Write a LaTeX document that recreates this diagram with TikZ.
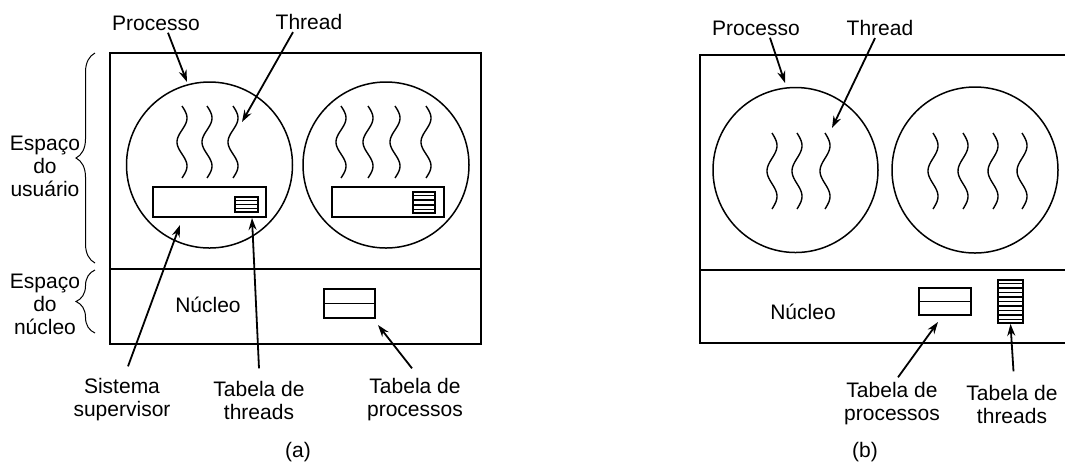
\documentclass[tikz,border=0pt]{standalone}
\usepackage{fontspec}
\setmainfont{Liberation Sans}
\usepackage{tikz}
\usetikzlibrary{arrows.meta, calc, decorations.pathreplacing}
\tikzset{
  proc/.style = {circle, draw, line width=0.75pt, inner sep=0pt},
  svbox/.style = {rectangle, draw, line width=0.9pt, inner sep=0pt},
  tbl/.style = {rectangle, draw, line width=0.9pt, inner sep=0pt},
  row/.style = {line width=0.75pt},
  lbl/.style = {align=center, inner sep=1pt},
  thread/.style = {line width=0.7pt},
  frame/.style = {line width=1pt},
  brace/.style = {decorate, decoration={brace, amplitude=9.5pt}, line width=0.5pt},
  arrow/.style = {line width=0.9pt, -{Stealth[length=6pt,width=4pt]}},
}

\begin{document}
\begin{tikzpicture}[x=0.5pt, y=-0.5pt, font=\fontsize{10.5}{11.5}\selectfont]
  \useasboundingbox (0,0) rectangle (1065,463);

  % (a) threads in user space
  \draw[frame] (110,53) rectangle (481,344);
  \draw[frame] (110,269) -- (481,269);
  \node[proc, minimum size=83pt] (procA1) at (209.5,165) {};
  \node[proc, minimum size=83pt] (procA2) at (386,165) {};
  \foreach \tx in {182,207,233}
    \draw[thread] plot[variable=\t, domain=0:1, samples=40] ({\tx+5*sin(540*\t)}, {106+72*\t});
  \foreach \tx in {341,368,395,426}
    \draw[thread] plot[variable=\t, domain=0:1, samples=40] ({\tx+5*sin(540*\t)}, {106+72*\t});
  \node[svbox, minimum width=56.5pt, minimum height=15pt] (svA1) at (209.5,202) {};
  \node[svbox, minimum width=56pt, minimum height=15pt] (svA2) at (388,202) {};
  \node[tbl, minimum width=11.5pt, minimum height=7.5pt] (ttA1) at (246.5,204.5) {};
  \node[tbl, minimum width=11pt, minimum height=10.5pt] (ttA2) at (424,202.5) {};
  \node[tbl, minimum width=25.5pt, minimum height=14.5pt] (ptA) at (349.5,303.5) {};
  \foreach \k in {1,...,3}
    \draw[row] ($(ttA1.north west)!\k/4!(ttA1.south west)$) -- ($(ttA1.north east)!\k/4!(ttA1.south east)$);
  \foreach \k in {1,...,4}
    \draw[row] ($(ttA2.north west)!\k/5!(ttA2.south west)$) -- ($(ttA2.north east)!\k/5!(ttA2.south east)$);
  \draw[tbl] (ptA.west) -- (ptA.east);

  \node[lbl] (nucA) at (208,305) {Núcleo};
  \node[lbl] (usr) at (45,166) {Espaço\\do\\usuário};
  \node[lbl] (ker) at (45,304) {Espaço\\do\\núcleo};
  \draw[brace] (95,263) -- (95,53);
  \draw[brace, decoration={aspect=0.5}] (95,333) -- (95,270);

  \node[lbl] (lprocA) at (156,23) {Processo};
  \node[lbl] (lthrA) at (309,22) {Thread};
  \node[lbl] (lsup) at (122,400) {Sistema\\supervisor};
  \node[lbl] (lttA) at (259,400) {Tabela de\\threads};
  \node[lbl] (lptA) at (415,400) {Tabela de\\processos};
  \node[lbl] (capA) at (298,452) {(a)};

  \coordinate (tipProcA) at (187,82);
  \coordinate (tipThrA) at (242,122);
  \coordinate (tipSup) at (180,225);
  \coordinate (tipTtA) at (252,218);
  \coordinate (tipPtA) at (378,325);
  \draw[arrow] ([xshift=6pt]lprocA.south) -- (tipProcA);
  \draw[arrow] ([xshift=-8pt]lthrA.south) -- (tipThrA);
  \draw[arrow] ([xshift=3pt,yshift=5pt]lsup.north) -- (tipSup);
  \draw[arrow] ([yshift=5pt]lttA.north) -- (tipTtA);
  \draw[arrow] ([xshift=-1.5pt,yshift=4pt]lptA.north) -- (tipPtA);

  % (b) threads in the kernel
  \draw[frame] (1066,55) -- (700,55) -- (700,343) -- (1066,343);
  \draw[frame] (700,270) -- (1066,270);
  \node[proc, minimum size=82.5pt] (procB1) at (795.5,170) {};
  \node[proc, minimum size=83pt] (procB2) at (975,170) {};
  \foreach \tx in {772,797,825}
    \draw[thread] plot[variable=\t, domain=0:1, samples=40] ({\tx+5*sin(540*\t)}, {133+76*\t});
  \foreach \tx in {933,963,993,1022}
    \draw[thread] plot[variable=\t, domain=0:1, samples=40] ({\tx+5*sin(540*\t)}, {133+76*\t});
  \node[tbl, minimum width=26pt, minimum height=13.5pt] (ptB) at (945,301.5) {};
  \node[tbl, minimum width=12.5pt, minimum height=21.5pt] (ttB) at (1010.5,301.5) {};
  \draw[tbl] (ptB.west) -- (ptB.east);
  \foreach \k in {1,...,9}
    \draw[row] ($(ttB.north west)!\k/10!(ttB.south west)$) -- ($(ttB.north east)!\k/10!(ttB.south east)$);

  \node[lbl] (nucB) at (803,312) {Núcleo};
  \node[lbl] (lprocB) at (756,28) {Processo};
  \node[lbl] (lthrB) at (880,28) {Thread};
  \node[lbl] (lptB) at (892,404) {Tabela de\\processos};
  \node[lbl] (lttB) at (1012,404) {Tabela de\\threads};
  \node[lbl] (capB) at (865,452) {(b)};

  \coordinate (tipProcB) at (785,83);
  \coordinate (tipThrB) at (832,128);
  \coordinate (tipPtB) at (938,322);
  \draw[arrow] ([xshift=7pt]lprocB.south) -- (tipProcB);
  \draw[arrow] ([xshift=-2.5pt]lthrB.south) -- (tipThrB);
  \draw[arrow] ([xshift=3pt,yshift=1.5pt]lptB.north) -- (tipPtB);
  \draw[arrow] ([xshift=0.75pt,yshift=5.5pt]lttB.north) -- (ttB.south);
\end{tikzpicture}
\end{document}
